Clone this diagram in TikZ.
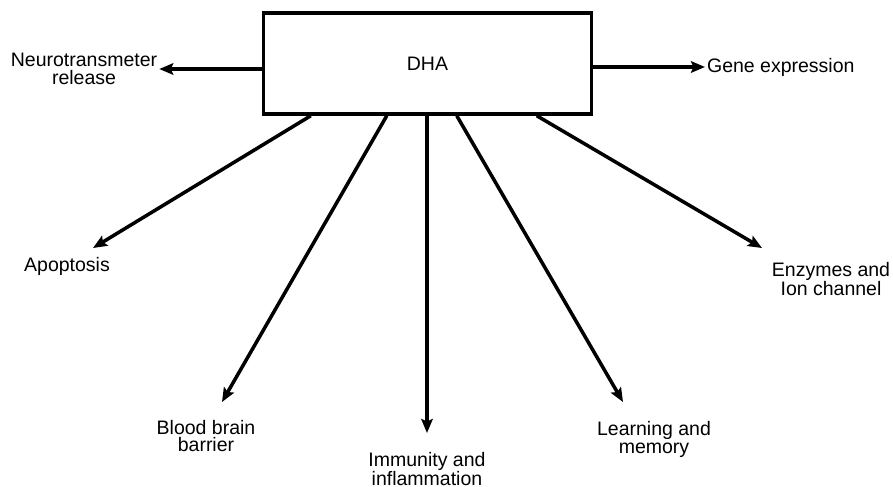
\documentclass[tikz,border=0pt]{standalone}
\usepackage{fontspec}
\setmainfont{Liberation Sans}
\usetikzlibrary{arrows.meta,calc}

\tikzset{
	effect/.style={align=center,inner sep=1pt,font=\fontsize{11.1}{10.2}\selectfont},
	arr/.style={line width=2pt,-{Stealth[length=2.8mm,width=2.3mm,inset=0.5mm]}}
}

\begin{document}
\begin{tikzpicture}[x=0.02cm,y=-0.02cm]
	\useasboundingbox (0,0) rectangle (893,487);
	
	\node[draw,line width=2pt,minimum width=6.56cm,minimum height=2.02cm,font=\fontsize{11.1}{10.2}\selectfont] (dha) at (427.5,63.5) {DHA};
	
	% side effects
	\node[effect] (neuro) at (84,69) {Neurotransmeter\\ release};
	\node[effect,anchor=west] (gene) at (705,67) {Gene expression};
	
	\draw[arr] (dha.west |- neuro.east) -- (neuro.east);
	\draw[arr] (dha.east |- gene.west) -- (gene.west);
	
	% effects below the box
	\node[effect] (apo) at (67,266) {Apoptosis};
	\node[effect] (bbb) at (206,436) {Blood brain\\ barrier};
	\node[effect] (imm) at (427,469) {Immunity and\\ inflammation};
	\node[effect] (lrn) at (654,439) {Learning and\\ memory};
	\node[effect] (enz) at (831,279) {Enzymes and\\ Ion channel};
	
	\coordinate (apotip) at (93,248);
	\coordinate (bbbtip) at (222,402);
	\coordinate (immtip) at (427,433);
	\coordinate (lrntip) at (623,402);
	\coordinate (enztip) at (762,248);
	
	\draw[arr] ($(dha.south west)+(49,0)$) -- (apotip);
	\draw[arr] ($(dha.south west)+(125,0)$) -- (bbbtip);
	\draw[arr] (dha.south -| immtip) -- (immtip);
	\draw[arr] ($(dha.south west)+(195,0)$) -- (lrntip);
	\draw[arr] ($(dha.south west)+(275,0)$) -- (enztip);
\end{tikzpicture}
\end{document}
